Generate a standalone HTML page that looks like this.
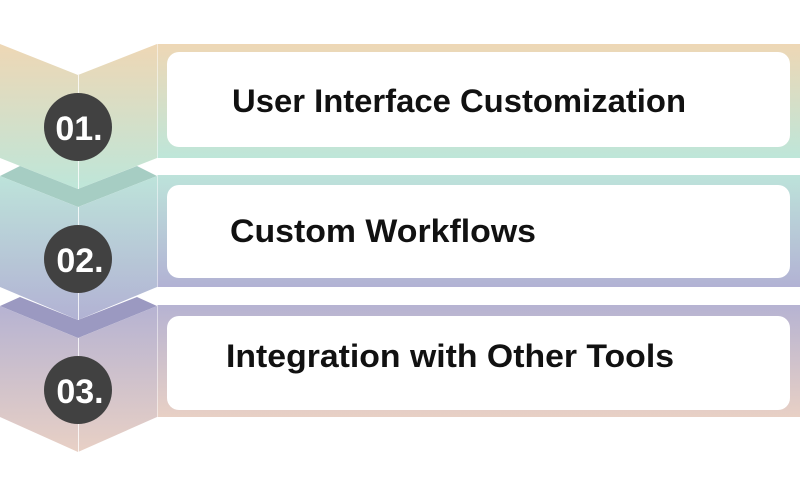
<!DOCTYPE html>
<html><head><meta charset="utf-8"><style>html,body{margin:0;padding:0;background:#fff}svg{display:block}</style></head>
<body>
<svg width="800" height="500" viewBox="0 0 800 500" xmlns="http://www.w3.org/2000/svg">
<defs>
<linearGradient id="g1" x1="0" y1="0" x2="0" y2="1"><stop offset="0" stop-color="#eed7b5"/><stop offset="1" stop-color="#bee6d9"/></linearGradient>
<linearGradient id="g2" x1="0" y1="0" x2="0" y2="1"><stop offset="0" stop-color="#bde3da"/><stop offset="1" stop-color="#b2b2d4"/></linearGradient>
<linearGradient id="g3" x1="0" y1="0" x2="0" y2="1"><stop offset="0" stop-color="#b6b3d2"/><stop offset="1" stop-color="#e8d0c5"/></linearGradient>
</defs>
<rect x="157" y="44" width="643" height="114" fill="url(#g1)"/>
<rect x="157" y="175" width="643" height="112" fill="url(#g2)"/>
<rect x="157" y="305" width="643" height="112" fill="url(#g3)"/>
<polygon points="0,44 78,75 157,44 157,158 78,189 0,158" fill="url(#g1)"/>
<polygon points="0,176 20,166 78,189 137,166 157,176 78,207" fill="#a6cdc3"/>
<polygon points="0,176 78,207 157,176 157,287 78,320 0,287" fill="url(#g2)"/>
<polygon points="0,306 20,297 78,320 137,297 157,306 78,338" fill="#9b99c1"/>
<polygon points="0,306 78,338 157,306 157,417 78,452 0,417" fill="url(#g3)"/>
<g stroke="#ffffff" stroke-width="1" opacity="0.8">
<line x1="78.5" y1="75" x2="78.5" y2="189"/>
<line x1="78.5" y1="207" x2="78.5" y2="320"/>
<line x1="78.5" y1="338" x2="78.5" y2="452"/>
</g>
<line x1="157.5" y1="44" x2="157.5" y2="417" stroke="#ffffff" stroke-width="1" opacity="0.5"/>
<rect x="167" y="52" width="623" height="95" rx="12" fill="#fff"/>
<rect x="167" y="185" width="623" height="93" rx="12" fill="#fff"/>
<rect x="167" y="316" width="623" height="94" rx="12" fill="#fff"/>
<g fill="#414141">
<circle cx="78" cy="127" r="34"/>
<circle cx="78" cy="259" r="34"/>
<circle cx="78" cy="390" r="34"/>
</g>
<g font-family="Liberation Sans, Arial, sans-serif" font-weight="bold" fill="#fff" font-size="34">
<text x="79" y="140" text-anchor="middle">01.</text>
<text x="80" y="272" text-anchor="middle">02.</text>
<text x="80" y="403" text-anchor="middle">03.</text>
</g>
<g font-family="Liberation Sans, Arial, sans-serif" font-weight="bold" fill="#111" font-size="32">
<text x="232" y="112" textLength="454" lengthAdjust="spacingAndGlyphs">User Interface Customization</text>
<text x="230" y="242" textLength="306" lengthAdjust="spacingAndGlyphs">Custom Workflows</text>
<text x="226" y="367" textLength="448" lengthAdjust="spacingAndGlyphs">Integration with Other Tools</text>
</g>
</svg>
</body></html>
